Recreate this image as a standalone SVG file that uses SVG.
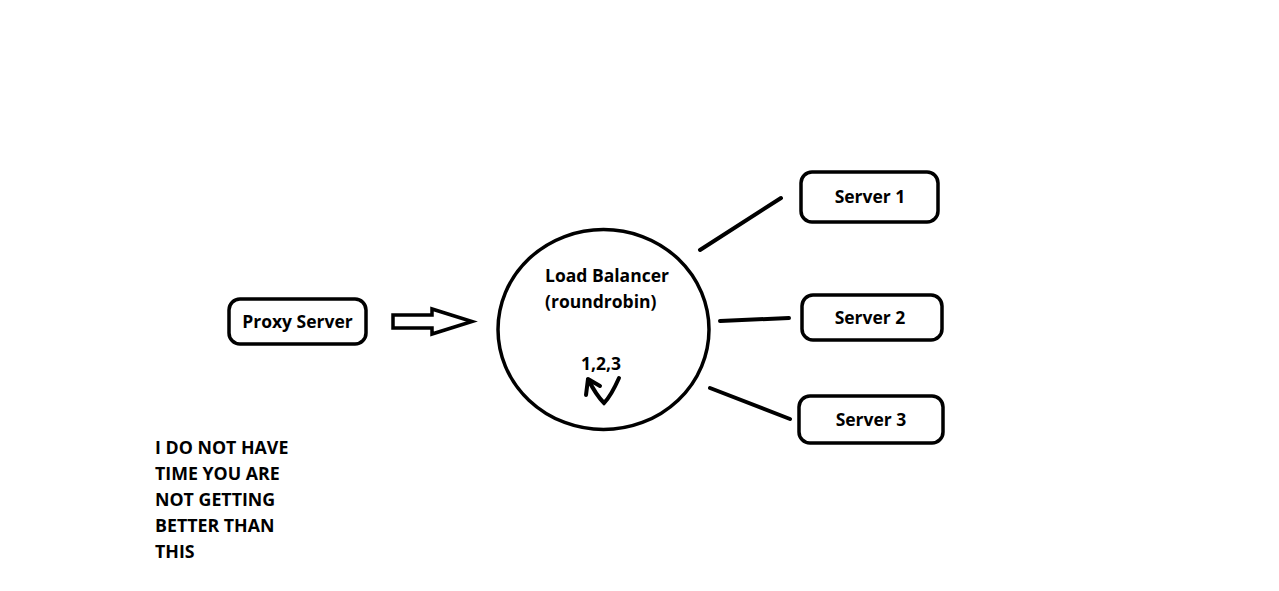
<svg xmlns="http://www.w3.org/2000/svg" width="1279" height="591" viewBox="0 0 1279 591">
<style>
.box{fill:#fff;stroke:#000;stroke-width:3.5}
.ln{fill:none;stroke:#000;stroke-width:4;stroke-linecap:round}
.t{font-family:"Open Sans","Liberation Sans",sans-serif;font-weight:700;font-size:17.5px;fill:#000}
.n{font-size:17.8px}
</style>
<rect width="1279" height="591" fill="#fff"/>
<g id="proxy"><rect class="box" x="229" y="299" width="137" height="45" rx="11"/><text class="t" x="297.5" y="328" text-anchor="middle">Proxy Server</text></g>
<g id="lb"><ellipse cx="603.5" cy="329.5" rx="105.5" ry="100" fill="#fff" stroke="#000" stroke-width="3.5"/>
<text class="t" x="545" y="282">Load Balancer</text><text class="t" x="545" y="308">(roundrobin)</text>
<text class="t" x="581" y="370">1,2,3</text>
<path class="ln" d="M619,378 Q611,396 604,403 Q596,395 588,379 M588,379 L586,395 M588,379 L600,386" stroke-width="3.5"/></g>
<g id="s1"><rect class="box" x="801" y="172" width="137" height="50" rx="11"/><text class="t" x="870" y="203" text-anchor="middle">Server 1</text></g>
<g id="s2"><rect class="box" x="802" y="295" width="140" height="45" rx="11"/><text class="t" x="870" y="324" text-anchor="middle">Server 2</text></g>
<g id="s3"><rect class="box" x="799" y="396" width="144" height="47" rx="11"/><text class="t" x="871" y="426" text-anchor="middle">Server 3</text></g>
<g id="connectors">
<path d="M393,315 H432 V309 L472,321.5 L432,334 V328 H393 Z" fill="#fff" stroke="#000" stroke-width="3.5" stroke-linejoin="miter"/>
<line class="ln" x1="700" y1="250" x2="781" y2="198"/>
<line class="ln" x1="720" y1="321" x2="789" y2="318"/>
<line class="ln" x1="710" y1="388" x2="790" y2="419"/>
</g>
<g id="note"><text class="t n" x="155" y="454">I DO NOT HAVE</text><text class="t n" x="155" y="480">TIME YOU ARE</text><text class="t n" x="155" y="506">NOT GETTING</text><text class="t n" x="155" y="532">BETTER THAN</text><text class="t n" x="155" y="558">THIS</text></g>
</svg>
